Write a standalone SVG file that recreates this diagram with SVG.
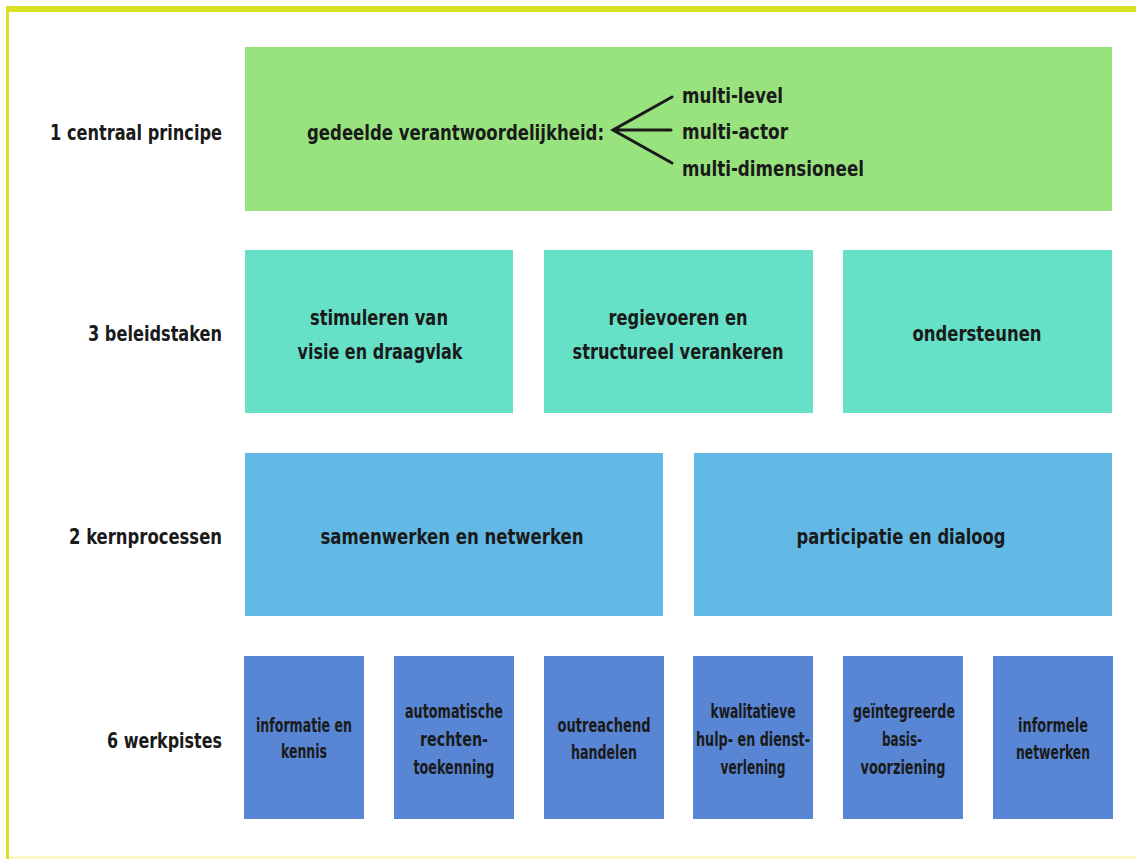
<svg xmlns="http://www.w3.org/2000/svg" width="1136" height="859" viewBox="0 0 1136 859">
  <style>
    .t { font-family: "DejaVu Sans Condensed", "Liberation Sans", sans-serif; font-weight: bold; fill: #1a1a1a; }
    .lbl { font-size: 22px; text-anchor: end; }
    .big { font-size: 22px; text-anchor: middle; }
    .sm { font-size: 19px; text-anchor: middle; }
    .green { fill: #98e37e; }
    .teal { fill: #66e1c8; }
    .blue { fill: #62b9e6; }
    .dblue { fill: #5886d4; }
  </style>
  <rect width="1136" height="859" fill="#ffffff"/>
  <!-- frame -->
  <line x1="6" y1="9" x2="1136" y2="9" stroke="#d9e021" stroke-width="6"/>
  <line x1="7.5" y1="6" x2="7.5" y2="859" stroke="#d9e021" stroke-width="3"/>
  <line x1="9" y1="857.5" x2="1136" y2="857.5" stroke="#f4f6a8" stroke-width="2"/>

  <!-- row labels -->
  <g id="row-labels">
    <text class="t lbl" x="222" y="140" textLength="172" lengthAdjust="spacingAndGlyphs">1 centraal principe</text>
    <text class="t lbl" x="222" y="341" textLength="134" lengthAdjust="spacingAndGlyphs">3 beleidstaken</text>
    <text class="t lbl" x="222" y="544" textLength="153" lengthAdjust="spacingAndGlyphs">2 kernprocessen</text>
    <text class="t lbl" x="222" y="748" textLength="115" lengthAdjust="spacingAndGlyphs">6 werkpistes</text>
  </g>

  <!-- central principle -->
  <g id="principe">
    <rect class="green" x="245" y="47" width="867" height="164"/>
    <text class="t" font-size="22" x="307" y="140" textLength="297" lengthAdjust="spacingAndGlyphs">gedeelde verantwoordelijkheid:</text>
    <text class="t" font-size="22" x="682" y="103" textLength="101" lengthAdjust="spacingAndGlyphs">multi-level</text>
    <text class="t" font-size="22" x="682" y="139" textLength="106" lengthAdjust="spacingAndGlyphs">multi-actor</text>
    <text class="t" font-size="22" x="682" y="176" textLength="182" lengthAdjust="spacingAndGlyphs">multi-dimensioneel</text>
  </g>
  <g id="connectors" stroke="#1a1a1a" stroke-width="3" fill="none" stroke-linecap="round">
    <path d="M672 97 L613 130 L672 163 M613 130 L671 130"/>
  </g>

  <!-- policy tasks -->
  <g id="stimuleren">
    <rect class="teal" x="245" y="250" width="268" height="163"/>
    <text class="t big" x="379" y="325" textLength="138" lengthAdjust="spacingAndGlyphs">stimuleren van</text>
    <text class="t big" x="380" y="359" textLength="165" lengthAdjust="spacingAndGlyphs">visie en draagvlak</text>
  </g>
  <g id="regievoeren">
    <rect class="teal" x="544" y="250" width="269" height="163"/>
    <text class="t big" x="678" y="325" textLength="139" lengthAdjust="spacingAndGlyphs">regievoeren en</text>
    <text class="t big" x="678" y="359" textLength="211" lengthAdjust="spacingAndGlyphs">structureel verankeren</text>
  </g>
  <g id="ondersteunen">
    <rect class="teal" x="843" y="250" width="269" height="163"/>
    <text class="t big" x="977" y="341" textLength="129" lengthAdjust="spacingAndGlyphs">ondersteunen</text>
  </g>

  <!-- core processes -->
  <g id="samenwerken">
    <rect class="blue" x="245" y="453" width="418" height="163"/>
    <text class="t big" x="452" y="544" textLength="263" lengthAdjust="spacingAndGlyphs">samenwerken en netwerken</text>
  </g>
  <g id="participatie">
    <rect class="blue" x="694" y="453" width="418" height="163"/>
    <text class="t big" x="901" y="544" textLength="209" lengthAdjust="spacingAndGlyphs">participatie en dialoog</text>
  </g>

  <!-- work tracks -->
  <g id="informatie">
    <rect class="dblue" x="244" y="656" width="120" height="163"/>
    <text class="t sm" x="304" y="732" textLength="96" lengthAdjust="spacingAndGlyphs">informatie en</text>
    <text class="t sm" x="304" y="758" textLength="46" lengthAdjust="spacingAndGlyphs">kennis</text>
  </g>
  <g id="automatische">
    <rect class="dblue" x="394" y="656" width="120" height="163"/>
    <text class="t sm" x="454" y="718" textLength="98" lengthAdjust="spacingAndGlyphs">automatische</text>
    <text class="t sm" x="454" y="746" textLength="68" lengthAdjust="spacingAndGlyphs">rechten-</text>
    <text class="t sm" x="454" y="774" textLength="81" lengthAdjust="spacingAndGlyphs">toekenning</text>
  </g>
  <g id="outreachend">
    <rect class="dblue" x="544" y="656" width="120" height="163"/>
    <text class="t sm" x="604" y="732" textLength="93" lengthAdjust="spacingAndGlyphs">outreachend</text>
    <text class="t sm" x="604" y="759" textLength="66" lengthAdjust="spacingAndGlyphs">handelen</text>
  </g>
  <g id="kwalitatieve">
    <rect class="dblue" x="693" y="656" width="120" height="163"/>
    <text class="t sm" x="753" y="718" textLength="85" lengthAdjust="spacingAndGlyphs">kwalitatieve</text>
    <text class="t sm" x="753" y="746" textLength="114" lengthAdjust="spacingAndGlyphs">hulp- en dienst-</text>
    <text class="t sm" x="753" y="774" textLength="65" lengthAdjust="spacingAndGlyphs">verlening</text>
  </g>
  <g id="geintegreerde">
    <rect class="dblue" x="843" y="656" width="120" height="163"/>
    <text class="t sm" x="904" y="718" textLength="102" lengthAdjust="spacingAndGlyphs">geïntegreerde</text>
    <text class="t sm" x="902" y="746" textLength="40" lengthAdjust="spacingAndGlyphs">basis-</text>
    <text class="t sm" x="903" y="774" textLength="85" lengthAdjust="spacingAndGlyphs">voorziening</text>
  </g>
  <g id="informele">
    <rect class="dblue" x="993" y="656" width="120" height="163"/>
    <text class="t sm" x="1053" y="732" textLength="70" lengthAdjust="spacingAndGlyphs">informele</text>
    <text class="t sm" x="1053" y="759" textLength="74" lengthAdjust="spacingAndGlyphs">netwerken</text>
  </g>
</svg>
